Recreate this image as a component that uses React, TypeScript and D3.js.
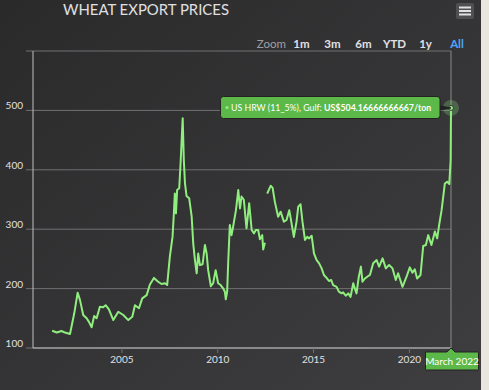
import React from "react";
import * as d3 from "d3";

const years: number[] = [
  2001.36, 2001.6, 2001.85, 2002.03, 2002.29, 2002.51, 2002.69, 2002.81, 2002.98, 2003.16,
  2003.28, 2003.42, 2003.55, 2003.68, 2003.85, 2004.02, 2004.15, 2004.32, 2004.55, 2004.81,
  2005.07, 2005.33, 2005.54, 2005.68, 2005.89, 2006.06, 2006.29, 2006.46, 2006.67, 2006.89,
  2007.07, 2007.24, 2007.36, 2007.5, 2007.64, 2007.71, 2007.76, 2007.82, 2007.88, 2007.99,
  2008.06, 2008.17, 2008.23, 2008.29, 2008.37, 2008.51, 2008.64, 2008.72, 2008.81, 2008.9,
  2008.98, 2009.07, 2009.21, 2009.33, 2009.42, 2009.5, 2009.64, 2009.76, 2009.89, 2010.02,
  2010.15, 2010.28, 2010.37, 2010.42, 2010.49, 2010.55, 2010.63, 2010.72, 2010.8, 2010.95,
  2011.07, 2011.16, 2011.24, 2011.36, 2011.5, 2011.64, 2011.77, 2011.89, 2011.99, 2012.11,
  2012.2, 2012.32, 2012.37, 2012.46, 2012.52, 2012.58, 2012.76, 2012.86, 2012.98, 2013.15,
  2013.28, 2013.45, 2013.59, 2013.73, 2013.85, 2013.97, 2014.11, 2014.2, 2014.32, 2014.42,
  2014.55, 2014.67, 2014.77, 2014.9, 2015.02, 2015.16, 2015.29, 2015.42, 2015.54, 2015.68,
  2015.8, 2015.92, 2016.02, 2016.2, 2016.32, 2016.46, 2016.54, 2016.68, 2016.81, 2016.93,
  2017.07, 2017.15, 2017.24, 2017.36, 2017.47, 2017.55, 2017.68, 2017.8, 2017.94, 2018.11,
  2018.29, 2018.42, 2018.6, 2018.77, 2018.94, 2019.12, 2019.29, 2019.41, 2019.64, 2019.85,
  2020.02, 2020.16, 2020.28, 2020.4, 2020.58, 2020.72, 2020.86, 2020.98, 2021.15, 2021.33,
  2021.45, 2021.55, 2021.68, 2021.85, 2021.97, 2022.08, 2022.15, 2022.17,
];

const prices: (number | null)[] = [
  129, 126, 128.6, 126, 123.6, 158, 193, 181, 155.6, 150,
  144, 135, 154, 150, 169.5, 168.5, 172, 165, 147, 161,
  155.6, 147, 152.7, 172, 167, 183.6, 189, 207, 218, 211.6,
  207.7, 209, 206, 253.7, 287, 326.7, 360, 326.7, 366, 369,
  411, 486.6, 416, 377, 356, 352, 321, 276, 248, 225.8,
  259, 239.7, 241, 273.4, 259, 231, 204, 209, 231, 209,
  206, 200.5, 194.8, 182, 194.8, 248, 307, 290, 304, 332,
  366, 335, 355, 349.6, 301.5, 343.6, 298.6, 293, 298.6, 298.6,
  283, 290, 266, 277, null, 360, 373, 370, 346, 321,
  329.5, 312.6, 315.5, 332, 310, 287, 312.6, 337.9, 342, 312.6,
  282, 287, 284.6, 289, 259.4, 248, 242.5, 234, 222.9, 218,
  212.8, 214.5, 206, 203, 194.8, 192, 193.7, 188, 192, 186,
  209, 200.5, 192, 220, 237, 211.6, 217, 220, 223, 242.6,
  248, 237, 251, 234, 239.7, 234, 214.5, 225.8, 203, 220,
  235.8, 226.8, 232.5, 217, 223, 271.7, 273.4, 290, 273.4, 296,
  284.6, 307, 332, 377, 380, 376, 416, 504.17,
];

const yTicks = [100, 200, 300, 400, 500, 600];
const xTicks = [2005, 2010, 2015, 2020];
const zoomButtons = ["1m", "3m", "6m", "YTD", "1y", "All"];
const zoomX = [301.5, 332.5, 363.5, 394.5, 425.5, 457];

const title = "WHEAT EXPORT PRICES";
const seriesName = "US HRW (11_5%), Gulf:";
const tooltipValue = "US$504.16666666667/ton";
const lastLabel = "March 2022";

const W = 489;
const H = 390;
const left = 33;
const right = 451;
const top = 51;
const bottom = 348;
const font = "Lato, 'Open Sans', sans-serif";
const green = "#90ee7e";
const boxGreen = "#5cb848";

export default function App() {
  const x = d3.scaleLinear().domain([2000.36, 2022.17]).range([left, right]);
  const y = d3.scaleLinear().domain([100, 600]).range([bottom, top]);
  const pts = years.map((yr, i) => ({ yr, v: prices[i] }));
  const line = d3
    .line<{ yr: number; v: number | null }>()
    .defined((d) => d.v !== null)
    .x((d) => x(d.yr))
    .y((d) => y(d.v as number));
  const last = pts[pts.length - 1];
  const px = x(last.yr);
  const py = y(last.v as number);

  return (
    <div style={{ position: "absolute", left: 0, top: 0 }}>
      <svg width={W} height={H} style={{ display: "block" }} fontFamily={font}>
        <defs>
          <linearGradient id="bg" x1="0" y1="0" x2="1" y2="1">
            <stop offset="0" stopColor="#2a2a2b" />
            <stop offset="1" stopColor="#3e3e40" />
          </linearGradient>
        </defs>
        <rect x={0} y={0} width={W} height={H} fill="#e8e6df" />
        <rect x={0} y={0} width={481} height={H} fill="url(#bg)" />

        <text x={63} y={15} fill="#e0e0e3" fontSize={15} textLength={166} lengthAdjust="spacingAndGlyphs">
          {title}
        </text>

        <rect x={456} y={3} width={18} height={16} rx={2} fill="#505053" />
        {[7.5, 11, 14.5].map((yy) => (
          <rect key={yy} x={459} y={yy - 1} width={12} height={2} fill="#e0e0e3" />
        ))}

        <text x={286} y={48} fill="#a0a0a3" fontSize={11.5} textAnchor="end">
          Zoom
        </text>
        {zoomButtons.map((b, i) => (
          <text
            key={b}
            x={zoomX[i]}
            y={48}
            fontSize={11.5}
            fontWeight="bold"
            textAnchor="middle"
            fill={b === "All" ? "#4da6ff" : "#e0e0e3"}
          >
            {b}
          </text>
        ))}

        {yTicks.map((t) => (
          <g key={t}>
            <line x1={26} x2={right} y1={y(t)} y2={y(t)} stroke="#707073" strokeWidth={1} />
            {t < 600 && (
              <text x={23} y={y(t) - 1} fontSize={10} fill="#e0e0e3" textAnchor="end">
                {t}
              </text>
            )}
          </g>
        ))}

        <line x1={left} x2={left} y1={top} y2={bottom} stroke="#c0c0c0" strokeWidth={1} />
        <line x1={left} x2={right} y1={bottom} y2={bottom} stroke="#c0c0c0" strokeWidth={1} />
        {xTicks.map((t) => (
          <g key={t}>
            <line x1={x(t)} x2={x(t)} y1={bottom} y2={bottom + 5} stroke="#707073" />
            <text x={x(t)} y={363} fontSize={10} fill="#e0e0e3" textAnchor="middle">
              {t}
            </text>
          </g>
        ))}

        <line x1={px} x2={px} y1={top} y2={bottom + 3} stroke="#8a8a8d" strokeWidth={1} />

        <path d={line(pts) || ""} fill="none" stroke={green} strokeWidth={2} strokeLinejoin="round" />

        <circle cx={px} cy={py} r={8} fill={green} fillOpacity={0.25} />
        <circle cx={px} cy={py} r={2.5} fill={green} stroke="#3a3a3a" strokeWidth={1} />

        <path
          d={`M${px - 11},${py - 2} L${px},${py} L${px - 11},${py + 2}`}
          fill="#222"
          stroke="#222"
        />
        <rect x={220.5} y={96.5} width={219.5} height={22} rx={3} fill={boxGreen} stroke="#222" strokeWidth={1} />
        <circle cx={227} cy={107.5} r={1.6} fill={green} />
        <text x={231} y={111} fontSize={8.8} fill="#ffffff">
          {seriesName}
        </text>
        <text x={324} y={111} fontSize={8.8} fontWeight="bold" fill="#ffffff">
          {tooltipValue}
        </text>

        <path
          d={`M425.5,352 L${px - 4},352 L${px},348 L${px + 4},352 L477.5,352 Q478.5,352 478.5,353 L478.5,369 Q478.5,370 477.5,370 L426.5,370 Q425.5,370 425.5,369 Z`}
          fill={boxGreen}
          stroke="#222"
          strokeWidth={1}
        />
        <text x={452} y={364.5} fontSize={10} fill="#ffffff" textAnchor="middle">
          {lastLabel}
        </text>
      </svg>
    </div>
  );
}
